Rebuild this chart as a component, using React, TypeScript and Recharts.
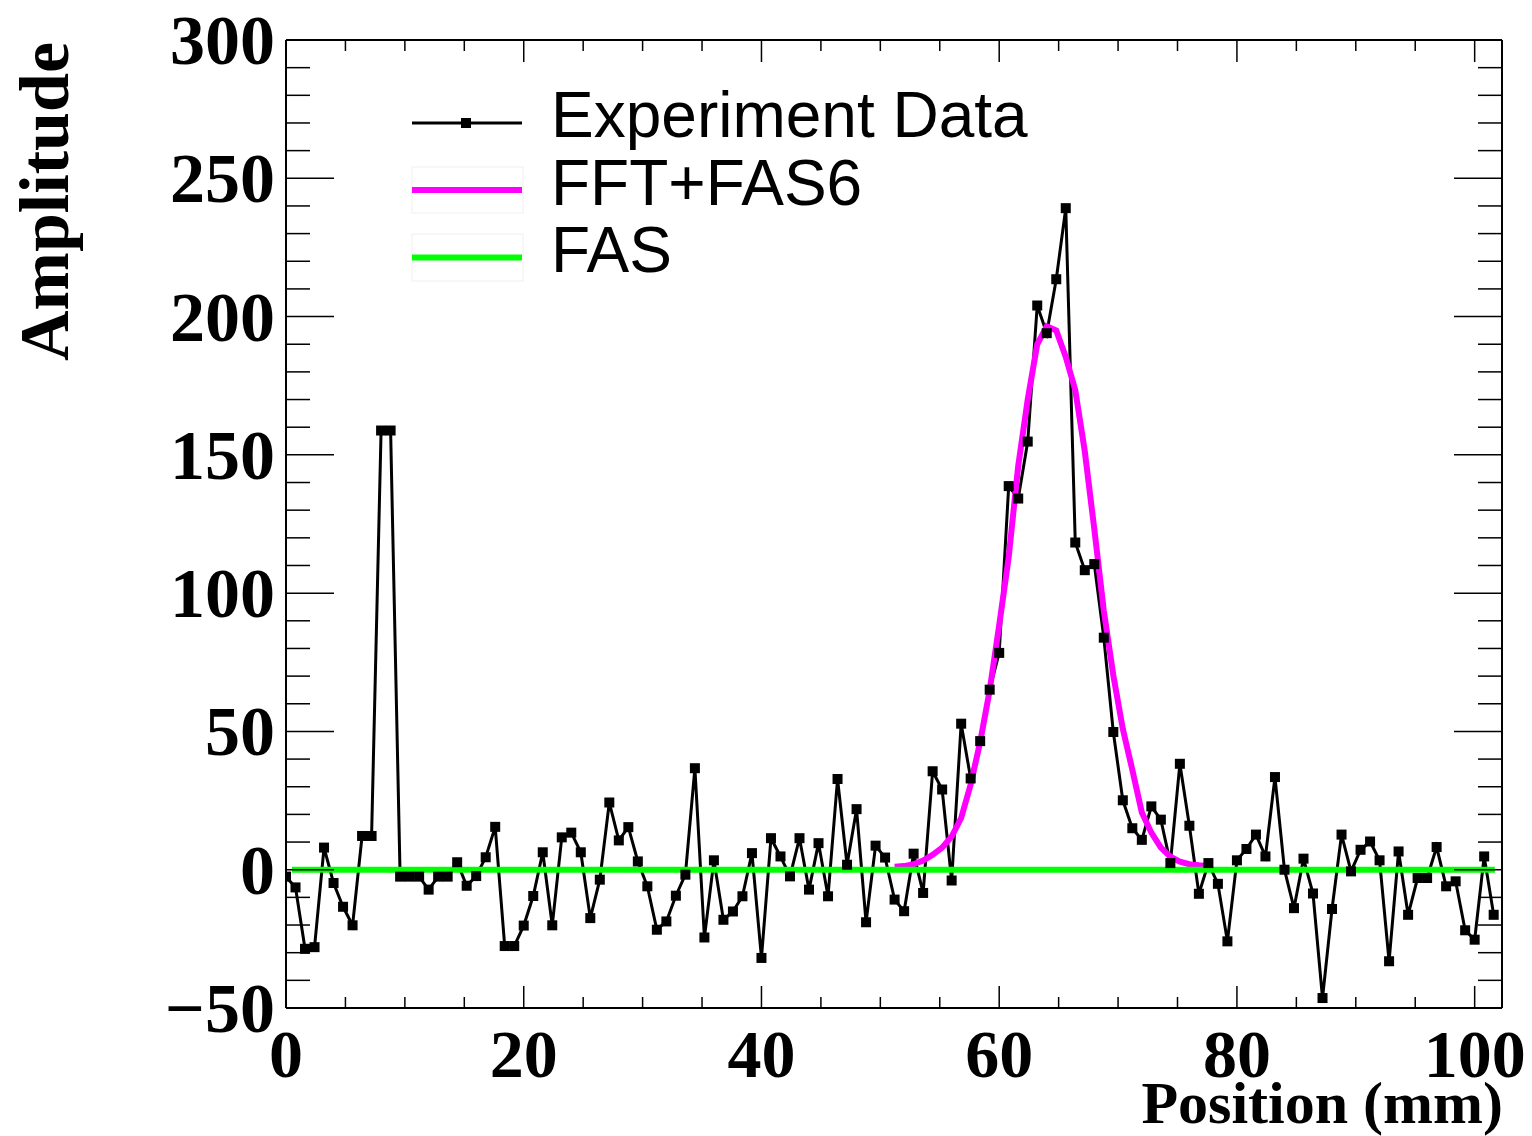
import React from 'react';
import { LineChart, Line, XAxis, YAxis, Legend } from 'recharts';

// Sample positions (mm), 0.8 mm pitch
const positions = [
  0, 0.8, 1.6, 2.4, 3.2, 4, 4.8, 5.6, 6.4, 7.2, 8, 8.8, 9.6, 10.4, 11.2, 12,
  12.8, 13.6, 14.4, 15.2, 16, 16.8, 17.6, 18.4, 19.2, 20, 20.8, 21.6, 22.4, 23.2, 24, 24.8,
  25.6, 26.4, 27.2, 28, 28.8, 29.6, 30.4, 31.2, 32, 32.8, 33.6, 34.4, 35.2, 36, 36.8, 37.6,
  38.4, 39.2, 40, 40.8, 41.6, 42.4, 43.2, 44, 44.8, 45.6, 46.4, 47.2, 48, 48.8, 49.6, 50.4,
  51.2, 52, 52.8, 53.6, 54.4, 55.2, 56, 56.8, 57.6, 58.4, 59.2, 60, 60.8, 61.6, 62.4, 63.2,
  64, 64.8, 65.6, 66.4, 67.2, 68, 68.8, 69.6, 70.4, 71.2, 72, 72.8, 73.6, 74.4, 75.2, 76,
  76.8, 77.6, 78.4, 79.2, 80, 80.8, 81.6, 82.4, 83.2, 84, 84.8, 85.6, 86.4, 87.2, 88, 88.8,
  89.6, 90.4, 91.2, 92, 92.8, 93.6, 94.4, 95.2, 96, 96.8, 97.6, 98.4, 99.2, 100, 100.8, 101.6,
];

const experimentData = [
  -2.5, -6.4, -28.6, -28.0, 8.0, -4.8, -13.4, -20.1, 12.2, 12.2, 158.8, 158.8, -2.5, -2.5, -2.5, -7.2,
  -2.5, -2.5, 2.7, -5.8, -2.3, 4.5, 15.5, -27.6, -27.6, -20.2, -9.5, 6.3, -20.1, 11.7, 13.4, 6.3,
  -17.5, -3.6, 24.3, 10.6, 15.4, 3.0, -6.0, -21.7, -18.7, -9.4, -1.8, 36.7, -24.5, 3.4, -18.1, -15.1,
  -9.6, 6.0, -31.9, 11.4, 4.8, -2.4, 11.4, -7.2, 9.6, -9.6, 32.8, 1.8, 21.9, -19.0, 8.7, 4.4,
  -10.8, -15.0, 5.8, -8.4, 35.6, 29.0, -3.9, 52.8, 33.0, 46.5, 65.1, 78.4, 138.7, 134.2, 154.8, 204.0,
  194.0, 213.5, 239.2, 118.3, 108.3, 110.5, 83.9, 49.8, 25.1, 15.0, 10.8, 22.9, 18.1, 2.4, 38.3, 15.9,
  -8.7, 2.4, -5.1, -25.9, 3.4, 7.5, 12.7, 4.8, 33.5, 0.0, -13.9, 4.0, -8.6, -46.4, -14.2, 12.7,
  -0.6, 7.2, 10.2, 3.4, -33.1, 6.6, -16.3, -3.0, -3.0, 8.2, -6.0, -4.2, -21.9, -25.3, 4.8, -16.3,
];

// FFT+FAS6 fitted curve, sampled on the same grid from 51.2 mm to 77.6 mm
const fitPositions = [
  51.2, 52, 52.8, 53.6, 54.4, 55.2, 56, 56.8, 57.6, 58.4, 59.2, 60, 60.8, 61.6, 62.4, 63.2,
  64, 64.8, 65.6, 66.4, 67.2, 68, 68.8, 69.6, 70.4, 71.2, 72, 72.8, 73.6, 74.4, 75.2, 76, 76.8, 77.6,
];
const fitValues = [
  1.1, 1.3, 2.0, 3.3, 5.4, 8.0, 12.0, 18.7, 30.8, 46.2, 64.9, 88.4, 113, 146, 170, 190,
  196.5, 195, 185.4, 173.4, 151.3, 123.2, 93.7, 70.3, 50.9, 36.1, 20.7, 13.4, 8.0, 4.7, 2.9, 2.0, 1.6, 1.3,
];

// FAS: flat line at zero
const fasPositions = [0.5, 101.7];
const fasValues = [0, 0];

const xTicks = [0, 5, 10, 15, 20, 25, 30, 35, 40, 45, 50, 55, 60, 65, 70, 75, 80, 85, 90, 95, 100];
const xMajor = [0, 20, 40, 60, 80, 100];
const yTicks = [-50, -40, -30, -20, -10, 0, 10, 20, 30, 40, 50, 60, 70, 80, 90, 100, 110, 120, 130, 140, 150,
  160, 170, 180, 190, 200, 210, 220, 230, 240, 250, 260, 270, 280, 290, 300];
const yMajor = [-50, 0, 50, 100, 150, 200, 250, 300];

const legendLabels = ['Experiment Data', 'FFT+FAS6', 'FAS'];
const xTitle = 'Position (mm)';
const yTitle = 'Amplitude';

const expRows = positions.map((x, i) => ({ x, y: experimentData[i] }));
const fitRows = fitPositions.map((x, i) => ({ x, y: fitValues[i] }));
const fasRows = fasPositions.map((x, i) => ({ x, y: fasValues[i] }));

const SERIF = "'Liberation Serif', 'Times New Roman', serif";
const SANS = "'Liberation Sans', Arial, Helvetica, sans-serif";

const fmt = (v: number) => (v < 0 ? '\u2212' + Math.abs(v) : String(v));

const YLeftTick = (props: any) => {
  const { x, y, payload } = props;
  const v = payload.value;
  const major = yMajor.includes(v);
  return (
    <g>
      <line x1={x} x2={x + (major ? 48 : 24)} y1={y} y2={y} stroke="#000" strokeWidth={1.5} />
      {major && (
        <text x={x - 11} y={y + 24} textAnchor="end" fontFamily={SERIF} fontWeight="bold" fontSize={70} fill="#000">
          {fmt(v)}
        </text>
      )}
    </g>
  );
};

const YRightTick = (props: any) => {
  const { x, y, payload } = props;
  const major = yMajor.includes(payload.value);
  return <line x1={x} x2={x - (major ? 48 : 24)} y1={y} y2={y} stroke="#000" strokeWidth={1.5} />;
};

const XBottomTick = (props: any) => {
  const { x, y, payload } = props;
  const v = payload.value;
  const major = xMajor.includes(v);
  return (
    <g>
      <line x1={x} x2={x} y1={y} y2={y - (major ? 22 : 11)} stroke="#000" strokeWidth={1.5} />
      {major && (
        <text x={x} y={y + 69} textAnchor="middle" fontFamily={SERIF} fontWeight="bold" fontSize={68} fill="#000">
          {fmt(v)}
        </text>
      )}
    </g>
  );
};

const XTopTick = (props: any) => {
  const { x, y, payload } = props;
  const major = xMajor.includes(payload.value);
  return <line x1={x} x2={x} y1={y} y2={y + (major ? 22 : 11)} stroke="#000" strokeWidth={1.5} />;
};

const XTitle = (props: any) => {
  const vb = props.viewBox || { x: 286, y: 1008, width: 1216, height: 128 };
  return (
    <text x={vb.x + vb.width + 1} y={vb.y + 115} textAnchor="end" fontFamily={SERIF} fontWeight="bold" fontSize={60} fill="#000">
      {xTitle}
    </text>
  );
};

const YTitle = (props: any) => {
  const vb = props.viewBox || { x: 0, y: 40, width: 286, height: 968 };
  const tx = vb.x + 68;
  const ty = vb.y + 2;
  return (
    <text x={tx} y={ty} transform={`rotate(-90, ${tx}, ${ty})`} textAnchor="end" fontFamily={SERIF} fontWeight="bold" fontSize={70} fill="#000">
      {yTitle}
    </text>
  );
};

const SquareDot = (props: any) => {
  const { cx, cy, index } = props;
  if (cx == null || cy == null) return <g key={index} />;
  return <rect key={index} x={cx - 5} y={cy - 5} width={10} height={10} fill="#000" />;
};

const renderLegend = () => (
  <svg width={1532} height={300} style={{ display: 'block' }}>
    <line x1={412} x2={522} y1={123} y2={123} stroke="#000" strokeWidth={3} />
    <rect x={461} y={118} width={10} height={10} fill="#000" />
    <text x={551} y={137} fontFamily={SANS} fontSize={64} fill="#000">{legendLabels[0]}</text>

    <rect x={412} y={167} width={111} height={46} fill="none" stroke="#efefef" strokeWidth={1} />
    <line x1={412} x2={522} y1={190} y2={190} stroke="#ff00ff" strokeWidth={6} />
    <text x={551} y={205} fontFamily={SANS} fontSize={64} fill="#000">{legendLabels[1]}</text>

    <rect x={412} y={234} width={111} height={47} fill="none" stroke="#efefef" strokeWidth={1} />
    <line x1={412} x2={522} y1={257.5} y2={257.5} stroke="#00ff00" strokeWidth={6} />
    <text x={551} y={272} fontFamily={SANS} fontSize={64} fill="#000">{legendLabels[2]}</text>
  </svg>
);

export default function App() {
  return (
    <div style={{ position: 'absolute', left: 0, top: 0, width: 1532, height: 1136, background: '#fff' }}>
      <LineChart width={1532} height={1136} margin={{ top: 0, right: 0, bottom: 0, left: 0 }}>
        <XAxis
          xAxisId={0}
          dataKey="x"
          type="number"
          domain={[0, 102.3]}
          allowDataOverflow
          ticks={xTicks}
          interval={0}
          height={128}
          tickSize={0}
          tickMargin={0}
          axisLine={{ stroke: '#000', strokeWidth: 2 }}
          tickLine={false}
          tick={<XBottomTick />}
          label={<XTitle />}
        />
        <XAxis
          xAxisId="top"
          orientation="top"
          dataKey="x"
          type="number"
          domain={[0, 102.3]}
          allowDataOverflow
          ticks={xTicks}
          interval={0}
          height={40}
          tickSize={0}
          tickMargin={0}
          axisLine={{ stroke: '#000', strokeWidth: 2 }}
          tickLine={false}
          tick={<XTopTick />}
        />
        <YAxis
          yAxisId={0}
          type="number"
          domain={[-50, 300]}
          allowDataOverflow
          ticks={yTicks}
          interval={0}
          width={286}
          tickSize={0}
          tickMargin={0}
          axisLine={{ stroke: '#000', strokeWidth: 2 }}
          tickLine={false}
          tick={<YLeftTick />}
          label={<YTitle />}
        />
        <YAxis
          yAxisId="right"
          orientation="right"
          type="number"
          domain={[-50, 300]}
          allowDataOverflow
          ticks={yTicks}
          interval={0}
          width={30}
          tickSize={0}
          tickMargin={0}
          axisLine={{ stroke: '#000', strokeWidth: 2 }}
          tickLine={false}
          tick={<YRightTick />}
        />
        <Line
          data={expRows}
          dataKey="y"
          name={legendLabels[0]}
          type="linear"
          stroke="#000"
          strokeWidth={3}
          dot={<SquareDot />}
          activeDot={false}
          isAnimationActive={false}
        />
        <Line
          data={fitRows}
          dataKey="y"
          name={legendLabels[1]}
          type="linear"
          stroke="#ff00ff"
          strokeWidth={6}
          dot={false}
          activeDot={false}
          isAnimationActive={false}
        />
        <Line
          data={fasRows}
          dataKey="y"
          name={legendLabels[2]}
          type="linear"
          stroke="#00ff00"
          strokeWidth={6}
          dot={false}
          activeDot={false}
          isAnimationActive={false}
        />
        <Legend
          layout="horizontal"
          verticalAlign="middle"
          align="center"
          wrapperStyle={{ position: 'absolute', left: 0, top: 0, width: 1532, height: 300, pointerEvents: 'none' }}
          content={renderLegend}
        />
      </LineChart>
    </div>
  );
}
